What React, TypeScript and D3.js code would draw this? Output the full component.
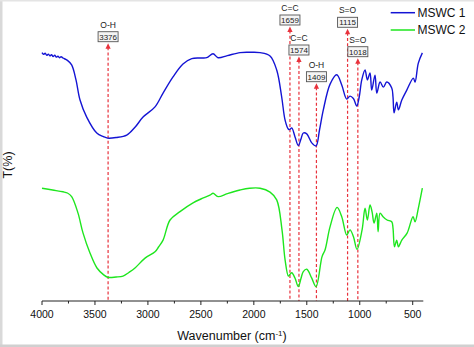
import React from "react";
import * as d3 from "d3";

const wn1 = [4000, 3985, 3970, 3955, 3940, 3925, 3910, 3895, 3880, 3865, 3850, 3835, 3820, 3802, 3760, 3720, 3679, 3641, 3578, 3483, 3420, 3380, 3300, 3200, 3120, 3046, 2933, 2857, 2763, 2669, 2586, 2500, 2445, 2385, 2338, 2250, 2130, 2040, 1941, 1847, 1784, 1737, 1705, 1674, 1660, 1642, 1611, 1580, 1555, 1533, 1500, 1453, 1413, 1380, 1344, 1280, 1217, 1170, 1123, 1092, 1060, 1028, 1005, 981, 950, 928, 903, 887, 856, 839, 808, 777, 745, 698, 686, 676, 651, 635, 603, 556, 494, 478, 447, 409];
const t1 = [82.8, 82.2, 82.6, 81.9, 82.3, 81.7, 82.1, 81.5, 81.9, 81.3, 81.6, 81.1, 81.4, 81.0, 80.2, 78.7, 73.7, 67.0, 61.3, 56.0, 54.8, 54.3, 54.5, 55.3, 58.0, 61.3, 64.7, 69.3, 74.7, 79.0, 80.8, 81.0, 81.1, 82.4, 81.1, 81.8, 82.8, 82.9, 82.8, 81.7, 77.0, 68.0, 60.3, 57.3, 57.2, 57.7, 54.7, 51.8, 54.0, 56.0, 55.7, 52.7, 51.7, 57.0, 63.7, 72.3, 75.4, 72.0, 67.3, 68.3, 67.5, 65.0, 68.0, 73.7, 77.0, 73.7, 76.0, 70.3, 75.3, 69.3, 73.0, 71.3, 73.0, 71.0, 68.0, 62.7, 66.3, 63.7, 67.0, 70.3, 74.3, 73.0, 79.3, 82.7];

const wn2 = [4000, 3900, 3802, 3760, 3720, 3660, 3613, 3547, 3481, 3420, 3380, 3300, 3235, 3180, 3122, 3027, 2933, 2900, 2857, 2791, 2697, 2574, 2500, 2414, 2385, 2338, 2250, 2130, 2040, 1941, 1847, 1784, 1734, 1705, 1674, 1660, 1642, 1611, 1580, 1555, 1533, 1500, 1453, 1413, 1356, 1328, 1280, 1214, 1170, 1123, 1092, 1060, 1026, 978, 950, 928, 903, 884, 865, 839, 827, 808, 780, 742, 698, 686, 672, 651, 635, 603, 553, 497, 478, 447, 409];
const t2 = [37.6, 37.0, 36.4, 36.0, 34.8, 29.3, 22.7, 16.0, 11.0, 8.8, 7.9, 8.0, 8.3, 9.5, 11.0, 14.3, 16.4, 18.0, 20.3, 27.0, 29.8, 32.7, 34.0, 35.3, 35.9, 34.8, 35.8, 37.0, 37.6, 37.6, 36.3, 33.7, 23.7, 13.7, 8.3, 8.8, 9.4, 7.6, 4.8, 7.5, 9.8, 10.6, 7.6, 4.8, 14.8, 17.0, 24.8, 31.2, 28.1, 22.0, 23.7, 21.5, 17.2, 23.7, 30.9, 27.0, 32.0, 29.8, 26.0, 29.3, 23.1, 29.3, 28.1, 27.0, 26.4, 24.3, 18.1, 20.3, 18.1, 20.3, 22.6, 28.1, 26.4, 30.9, 37.6];

const seriesNames = ["MSWC 1", "MSWC 2"];
const seriesColors = ["#1414d4", "#1ee61e"];

const xTickValues = [4000, 3500, 3000, 2500, 2000, 1500, 1000, 500];
const xMinorTicks = [3750, 3250, 2750, 2250, 1750, 1250, 750];

const annotGroups = ["O-H", "C=C", "C=C", "O-H", "S=O", "S=O"];
const annotWavenumbers = [3376, 1659, 1574, 1409, 1115, 1018];

export default function App() {
  const W = 474, H = 347;
  const x = d3.scaleLinear().domain([4000, 400]).range([42, 423.3]);
  const y = d3.scaleLinear().domain([0, 100]).range([301, 1]);
  const axisY = 301;

  const line = d3
    .line<[number, number]>()
    .x((d) => x(d[0]))
    .y((d) => y(d[1]))
    .curve(d3.curveCatmullRom.alpha(0.5));

  const p1 = line(wn1.map((w, i) => [w, t1[i]] as [number, number])) || "";
  const p2 = line(wn2.map((w, i) => [w, t2[i]] as [number, number])) || "";

  // box tops for annotations (layout)
  const boxTops = [31.7, 15, 45, 71.7, 17.3, 46.7];
  const font = "Liberation Sans, Arial, sans-serif";
  const red = "#e8323c";

  return (
    <svg width={W} height={H} style={{ position: "absolute", left: 0, top: 0, background: "#fff" }} fontFamily={font}>
      <rect x={0} y={0} width={W} height={H} fill="#fff" />
      {/* frame border */}
      <rect x={0} y={0} width={2.5} height={H} fill="#d9d9d9" />
      <rect x={0} y={0} width={W} height={1.5} fill="#e4e4e4" />
      <rect x={0} y={344.5} width={W} height={2.5} fill="#d0d0d0" />

      {/* dashed annotation lines */}
      {annotWavenumbers.map((w, i) => {
        const cx = x(w);
        const bt = boxTops[i];
        const tip = bt + 11.5;
        return (
          <g key={"a" + i}>
            <line x1={cx} x2={cx} y1={tip + 4} y2={axisY} stroke={red} strokeWidth={1.2} strokeDasharray="3,2.2" />
            <path d={`M${cx},${tip} L${cx - 2.6},${tip + 5.5} L${cx + 2.6},${tip + 5.5} Z`} fill={red} />
          </g>
        );
      })}

      {/* curves */}
      <path d={p2} fill="none" stroke={seriesColors[1]} strokeWidth={1.4} strokeLinejoin="round" />
      <path d={p1} fill="none" stroke={seriesColors[0]} strokeWidth={1.4} strokeLinejoin="round" />

      {/* annotation labels */}
      {annotWavenumbers.map((w, i) => {
        const cx = x(w);
        const bt = boxTops[i];
        return (
          <g key={"l" + i}>
            <text x={cx} y={bt - 4} textAnchor="middle" fontSize={8.5} fill="#222">
              {annotGroups[i]}
            </text>
            <rect x={cx - 10} y={bt} width={20} height={10} fill="#f4f4f4" stroke="#555" strokeWidth={0.9} />
            <text x={cx} y={bt + 8} textAnchor="middle" fontSize={8} fill="#222">
              {w}
            </text>
          </g>
        );
      })}

      {/* x axis */}
      <line x1={x(4000)} x2={x(400)} y1={axisY} y2={axisY} stroke="#222" strokeWidth={1} />
      {xTickValues.map((t) => (
        <g key={"t" + t}>
          <line x1={x(t)} x2={x(t)} y1={axisY} y2={axisY + 4} stroke="#222" strokeWidth={1} />
          <text x={x(t)} y={axisY + 17} textAnchor="middle" fontSize={10.5} fill="#111">
            {t}
          </text>
        </g>
      ))}
      {xMinorTicks.map((t) => (
        <line key={"m" + t} x1={x(t)} x2={x(t)} y1={axisY} y2={axisY + 2.5} stroke="#222" strokeWidth={1} />
      ))}
      <text x={232} y={340} textAnchor="middle" fontSize={12.5} fill="#111">
        Wavenumber (cm<tspan dy={-4} fontSize={8}>-1</tspan>
        <tspan dy={4}>)</tspan>
      </text>
      <text transform="translate(12,165) rotate(-90)" textAnchor="middle" fontSize={12.5} fill="#111">
        T(%)
      </text>

      {/* legend */}
      {seriesNames.map((n, i) => (
        <g key={n}>
          <line x1={390.7} x2={415} y1={12.7 + i * 17.3} y2={12.7 + i * 17.3} stroke={seriesColors[i]} strokeWidth={1.5} />
          <text x={417.5} y={12.7 + i * 17.3 + 4.3} fontSize={12} fill="#111">
            {n}
          </text>
        </g>
      ))}
    </svg>
  );
}
